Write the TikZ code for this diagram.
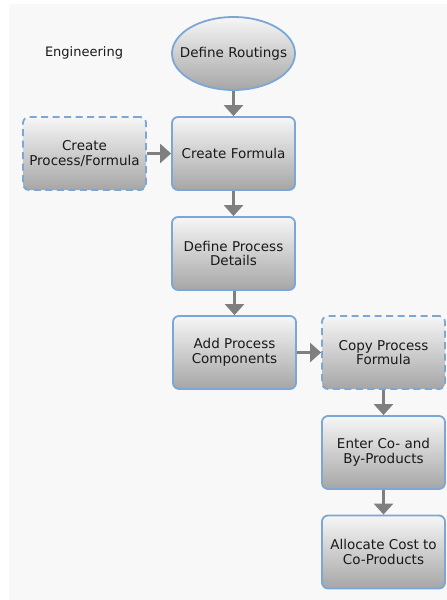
\documentclass[tikz,border=0pt]{standalone}
\usepackage{fontspec}
\setmainfont{DejaVu Sans}
\usetikzlibrary{shapes.geometric,arrows.meta}
\definecolor{bgc}{HTML}{F8F8F8}
\definecolor{bordc}{HTML}{7BA7D7}
\definecolor{topc}{HTML}{F6F6F6}
\definecolor{botc}{HTML}{A6A6A6}
\definecolor{arrc}{HTML}{7F7F7F}
\tikzset{
  stepbox/.style={draw=bordc, line width=1.8pt, rounded corners=6pt,
    top color=topc, bottom color=botc, minimum width=123pt, minimum height=73pt,
    inner sep=0pt, align=center, font=\fontsize{13.5}{14.5}\selectfont, text=black!90},
  dashbox/.style={stepbox, dash pattern=on 7pt off 4.5pt},
  ovalbox/.style={ellipse, draw=bordc, line width=1.8pt,
    top color=topc, bottom color=botc, minimum width=123pt, minimum height=73pt,
    inner xsep=-14pt, inner ysep=0pt, align=center, font=\fontsize{13.5}{14.5}\selectfont, text=black!90},
  flow/.style={draw=arrc, line width=2.6pt, -{Triangle[width=19pt,length=11pt]}, arrc},
}
\begin{document}
\begin{tikzpicture}[x=1pt,y=-1pt]
\useasboundingbox (0,0) rectangle (447,600);
\fill[white] (0,0) rectangle (447,600);
\fill[bgc] (9,4) rectangle (447,600);
\node[font=\fontsize{13}{13}\selectfont, text=black!90] (eng) at (84,53) {Engineering};
\node[ovalbox] (routings) at (233.5,53.5) {Define Routings};
\node[stepbox] (formula) at (233.5,153.5) {Create Formula};
\node[dashbox] (createpf) at (84.5,153.5) {Create\\Process/Formula};
\node[stepbox] (details) at (233.5,253.5) {Define Process\\Details};
\node[stepbox] (components) at (234.5,352.5) {Add Process\\Components};
\node[dashbox] (copy) at (383.5,352.5) {Copy Process\\Formula};
\node[stepbox] (coprod) at (383.5,452.5) {Enter Co- and\\By-Products};
\node[stepbox] (alloc) at (383.5,552) {Allocate Cost to\\Co-Products};
\draw[flow] (routings) -- (formula);
\draw[flow] (createpf) -- (formula);
\draw[flow] (formula) -- (details);
\draw[flow] (details.south -| components.north) -- (components);
\draw[flow] (components) -- (copy);
\draw[flow] (copy) -- (coprod);
\draw[flow] (coprod) -- (alloc);
\end{tikzpicture}
\end{document}
